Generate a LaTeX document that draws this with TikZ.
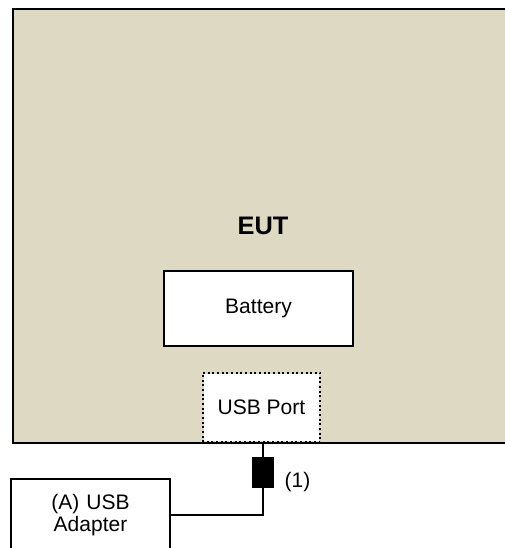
\documentclass[tikz,border=0pt]{standalone}
\usepackage{fontspec}
\setmainfont{Liberation Sans}
\usetikzlibrary{positioning}
\definecolor{eutbeige}{HTML}{DDD9C3}
\tikzset{
	eutbox/.style={draw, line width=1.9pt, fill=eutbeige, minimum width=375pt, minimum height=325.5pt, font=\fontsize{19}{22}\selectfont\bfseries}
}
\tikzset{
	partbox/.style={draw, line width=2pt, fill=white, font=\fontsize{15.75}{18}\selectfont, align=center}
}
\tikzset{
	cable/.style={line width=1.5pt}
}

\begin{document}
\begin{tikzpicture}[x=0.75pt, y=-0.75pt]

			\useasboundingbox (0,0) rectangle (505,548);
			\clip (0,0) rectangle (505,548);

			\node[eutbox] (eut) at (263,226) {EUT};

			\node[partbox, minimum width=141.75pt, minimum height=56.25pt] (battery) at (258.5,308.5) {Battery};
			\node[partbox, draw=none, minimum width=86.25pt, minimum height=50.25pt] (port) at (261.5,407.5) {USB Port};
			\draw[line width=1.5pt, dotted] (port.south west) rectangle (port.north east);

			\node[fill=black, inner sep=0pt, minimum width=16.5pt, minimum height=23.25pt] (plug) at (263,472.5) {};
			\node[font=\fontsize{15.75}{18}\selectfont, anchor=west] (cablenum) at (280,482) {(1)};

			\node[partbox, minimum width=119.25pt, minimum height=54pt, text width=110pt] (adapter) at (90.5,515) {(A) USB\\[-2pt] Adapter};

			\coordinate (bend) at (263,515);

			\draw[cable] (plug.north) -- (plug.north |- eut.south);
			\draw[cable] (plug.south) -- (bend) -- (adapter.east);

		\end{tikzpicture}
\end{document}
